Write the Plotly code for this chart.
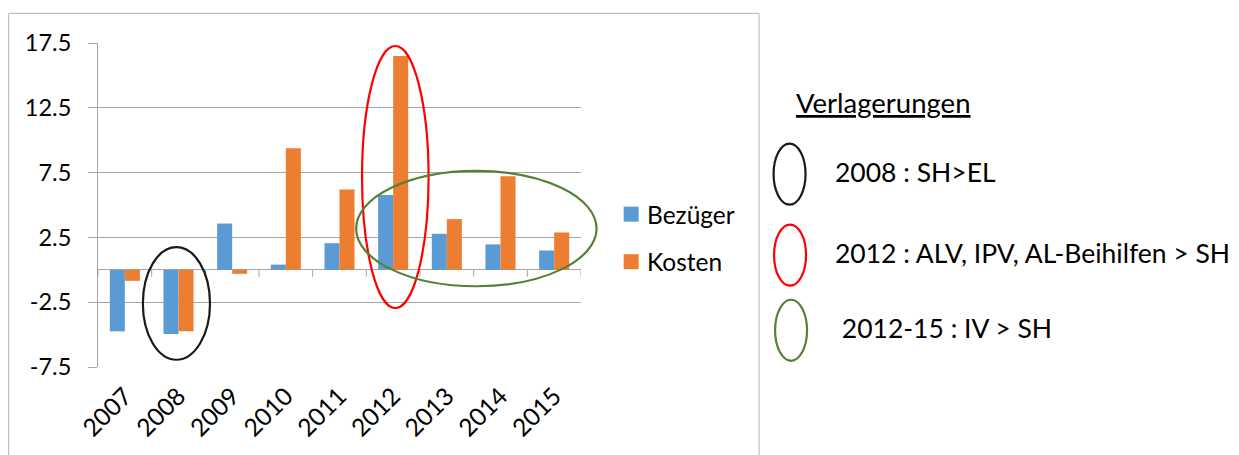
import plotly.graph_objects as go

# ---- data ----
years = ["2007", "2008", "2009", "2010", "2011", "2012", "2013", "2014", "2015"]
bezueger = [-4.75, -4.96, 3.57, 0.40, 2.05, 5.77, 2.78, 1.96, 1.49]
kosten = [-0.85, -4.74, -0.31, 9.37, 6.19, 16.5, 3.91, 7.22, 2.88]
series_names = ["Bezüger", "Kosten"]
series_colors = ["#5B9BD5", "#ED7D31"]
y_tickvals = [-7.5, -2.5, 2.5, 7.5, 12.5, 17.5]
y_ticktext = ["-7.5", "-2.5", "2.5", "7.5", "12.5", "17.5"]
y_range = [-7.5, 17.5]
note_title = "Verlagerungen"
note_texts = ["2008 : SH>EL", "2012 : ALV, IPV, AL-Beihilfen > SH", " 2012-15 : IV > SH"]
note_colors = ["#1A1A1A", "#FF0000", "#548235"]
# highlighted regions (category index / value units): x0, x1, y0, y1
highlight_regions = [(0.336, 1.587, -6.94, 1.75), (4.42, 5.66, -2.95, 17.27), (4.31, 8.79, -1.27, 7.63)]

FONT = "Lato"
OFF = 8  # page body margin
W, H = 1239 - OFF, 455 - OFF
# plot area in page pixels: x 98..581.3, y 43..366.7
L, T = 98 - OFF, 43 - OFF
R, B = 1239 - 581.3, 455 - 366.7
PW, PH = W - L - R, H - T - B
GRID = "#A6A6A6"


def px(x):
    # page pixel -> paper
    return (x - OFF - L) / PW


def py(y):
    return 1 - (y - OFF - T) / PH


nx = len(years)


def dx(v):
    return (v + 0.5) / nx


def dy(v):
    return (v - y_range[0]) / (y_range[1] - y_range[0])


fig = go.Figure()
for name, vals, col in zip(series_names, [bezueger, kosten], series_colors):
    fig.add_trace(go.Bar(x=years, y=vals, name=name, marker=dict(color=col, line=dict(width=0)),
                         showlegend=False))

shapes = []
annotations = []

# tick marks on zero line at category boundaries
for i in range(nx + 1):
    shapes.append(dict(type="line", xref="x", yref="y", ysizemode="pixel", yanchor=0,
                       x0=i - 0.5, x1=i - 0.5, y0=0, y1=-7, line=dict(color=GRID, width=1)))

# highlight ellipses on chart (paper coords so they are not clipped)
for (x0, x1, y0, y1), c in zip(highlight_regions, note_colors):
    shapes.append(dict(type="circle", xref="paper", yref="paper", x0=dx(x0), x1=dx(x1),
                       y0=dy(y0), y1=dy(y1), line=dict(color=c, width=2.2), layer="above"))

# outer chart border
for (x0, y0, x1, y1) in [(8.5, 13.5, 8.5, 470), (8.5, 13.5, 759.5, 13.5), (759.5, 13.5, 759.5, 470)]:
    shapes.append(dict(type="line", xref="paper", yref="paper", x0=px(x0), y0=py(y0),
                       x1=px(x1), y1=py(y1), line=dict(color="#BFBFBF", width=1.2)))

# manual legend
leg_y = [214, 261.5]
for name, col, yc in zip(series_names, series_colors, leg_y):
    shapes.append(dict(type="rect", xref="paper", yref="paper", x0=px(624), x1=px(639),
                       y0=py(yc - 7.5), y1=py(yc + 7.5), fillcolor=col, line=dict(width=0)))
    annotations.append(dict(text=name, xref="paper", yref="paper", x=px(645), y=py(yc),
                            xanchor="left", yanchor="middle", showarrow=False,
                            font=dict(family=FONT, size=24.5, color="#000000")))

# right notes
annotations.append(dict(text="<u>" + note_title + "</u>", xref="paper", yref="paper",
                        x=px(794), y=py(102), xanchor="left", yanchor="middle", showarrow=False,
                        font=dict(family=FONT, size=27.5, color="#000000")))
note_y = [172, 253, 328]
note_ex = [790, 790.5, 791.5]
for txt, c, yc, ex in zip(note_texts, note_colors, note_y, note_ex):
    shapes.append(dict(type="circle", xref="paper", yref="paper", x0=px(ex - 16), x1=px(ex + 16),
                       y0=py(yc + 2 + 30.5), y1=py(yc + 2 - 30.5), line=dict(color=c, width=2.2)))
    annotations.append(dict(text=txt, xref="paper", yref="paper", x=px(833), y=py(yc),
                            xanchor="left", yanchor="middle", showarrow=False,
                            font=dict(family=FONT, size=26.5, color="#000000")))

fig.update_layout(
    width=W, height=H,
    margin=dict(l=L, r=R, t=T, b=B, pad=0),
    paper_bgcolor="white", plot_bgcolor="white",
    barmode="group", bargap=0.44, bargroupgap=0,
    font=dict(family=FONT, size=23, color="#000000"),
    shapes=shapes, annotations=annotations,
    xaxis=dict(type="category", showgrid=False, showline=False, ticks="", tickangle=-45,
               ticklabelstandoff=9, tickfont=dict(family=FONT, size=24.5, color="#000000"),
               range=[-0.5, nx - 0.5], fixedrange=True),
    yaxis=dict(range=y_range, tickvals=y_tickvals, ticktext=y_ticktext, showgrid=True,
               gridcolor=GRID, gridwidth=1, zeroline=True, zerolinecolor=GRID, zerolinewidth=1,
               showline=True, linecolor=GRID, linewidth=1, ticks="outside", ticklen=9,
               tickcolor=GRID, ticklabelstandoff=12,
               tickfont=dict(family=FONT, size=23.5, color="#000000"), fixedrange=True),
)

fig.write_html("out.html")
